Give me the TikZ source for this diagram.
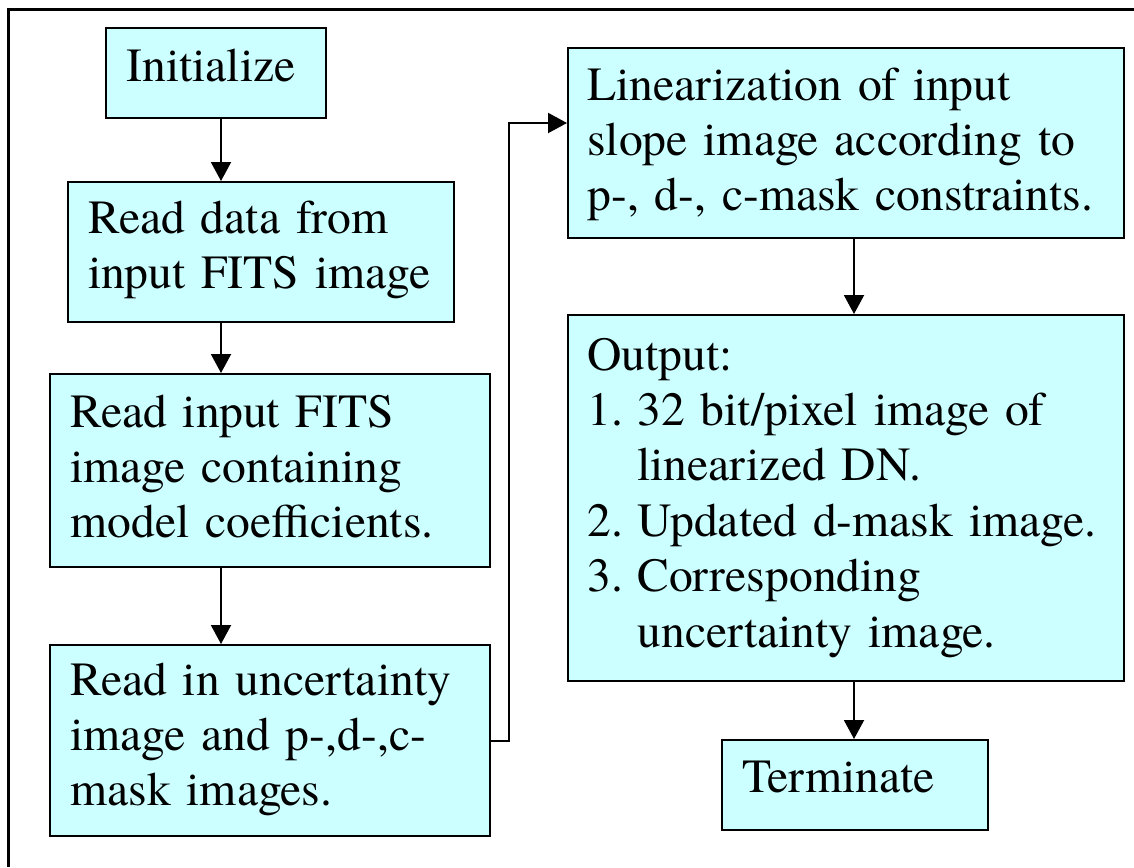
\documentclass[tikz,border=0pt]{standalone}
\usepackage{fontspec}
\setmainfont{TeX Gyre Termes}
\usetikzlibrary{arrows.meta}
\definecolor{boxfill}{HTML}{CCFFFF}
\begin{document}
\begin{tikzpicture}[x=0.5bp,y=-0.5bp,
  box/.style={draw=black, line width=1.1bp, fill=boxfill, anchor=north west, inner sep=0pt},
  txt/.style={anchor=base west, inner sep=0pt, align=left, text width=#1,
    font=\rmfamily\fontsize{23.8bp}{27.7bp}\selectfont},
  arr/.style={line width=1bp, -{Triangle[length=9.5bp,width=10bp]}},
  frame/.style={line width=1.1bp}]
\useasboundingbox (0,0) rectangle (1134,867);
% frame
\coordinate (fb) at (8.4,867);
\coordinate (fc) at (8.4,9.5);
\coordinate (fr) at (1134,9.5);
\draw[frame] (fb) -- (fc) -- (fr);
% boxes
\node[box, minimum width=110bp, minimum height=45bp] (init) at (105,27) {};
\node[box, minimum width=193bp, minimum height=70bp] (read1) at (67,181) {};
\node[box, minimum width=220.2bp, minimum height=96.5bp] (read2) at (48.6,373) {};
\node[box, minimum width=220.2bp, minimum height=95.5bp] (read3) at (48.6,644) {};
\node[box, minimum width=278bp, minimum height=95bp] (lin) at (567,47) {};
\node[box, minimum width=278bp, minimum height=183bp] (out) at (567,314) {};
\node[box, minimum width=133bp, minimum height=45bp] (term) at (721,739) {};
% texts
\node[txt=100bp] (tinit) at (126,81) {Initialize};
\node[txt=185bp] (tread1) at (88,233) {Read data from\\input FITS image};
\node[txt=215bp] (tread2) at (70,427) {Read input FITS\\image containing\\model coefficients.};
\node[txt=215bp] (tread3) at (70,695) {Read in uncertainty\\image and p-,d-,c-\\mask images.};
\node[txt=270bp] (tlin) at (587,100) {Linearization of input\\slope image according to\\p-, d-, c-mask constraints.};
\node[txt=270bp] (tout) at (587,370) {Output:\\\makebox[25bp][l]{1.}32 bit/pixel image of\\\hspace*{25bp}linearized DN.\\\makebox[25bp][l]{2.}Updated d-mask image.\\\makebox[25bp][l]{3.}Corresponding\\\hspace*{25bp}uncertainty image.};
\node[txt=120bp] (tterm) at (742,792) {Terminate};
% connectors
\coordinate (lx) at (221,0);
\coordinate (rx) at (854,0);
\coordinate (bend) at (509,123);
\draw[arr] (init.south -| lx) -- (read1.north -| lx);
\draw[arr] (read1.south -| lx) -- (read2.north -| lx);
\draw[arr] (read2.south -| lx) -- (read3.north -| lx);
\draw[arr] (read3.east) -| (bend) -- (bend -| lin.west);
\draw[arr] (lin.south -| rx) -- (out.north -| rx);
\draw[arr] (out.south -| rx) -- (term.north -| rx);
\end{tikzpicture}
\end{document}
